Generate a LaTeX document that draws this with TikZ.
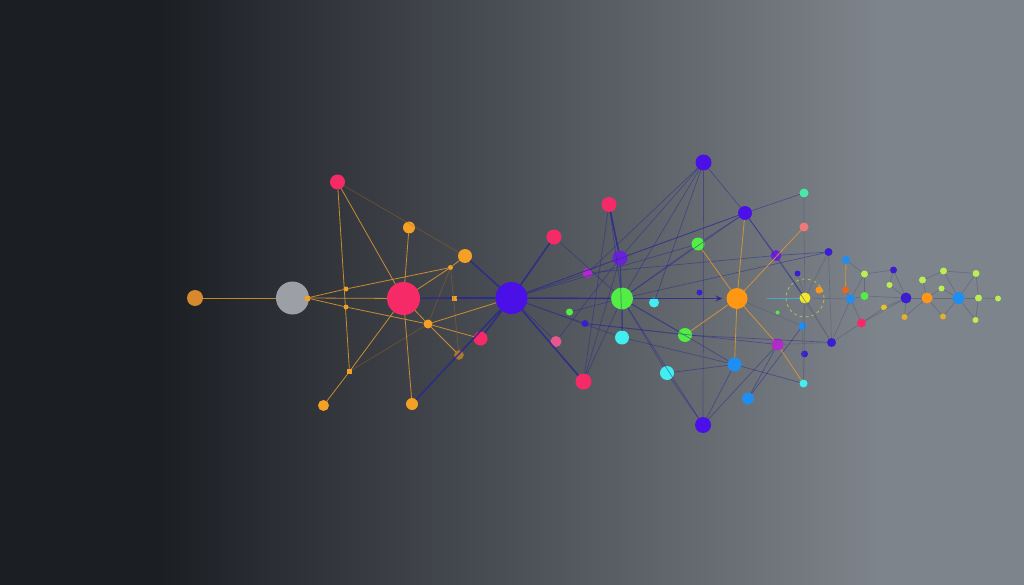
\documentclass[tikz,border=0pt]{standalone}
\usetikzlibrary{arrows.meta}
\definecolor{bgdark}{HTML}{1B1E23}
\definecolor{bgright}{HTML}{7E848B}
\definecolor{orA}{HTML}{D8892E}
\definecolor{orB}{HTML}{F4A024}
\definecolor{greyN}{HTML}{9C9FA6}
\definecolor{pinkN}{HTML}{F72A68}
\definecolor{pinkL}{HTML}{E8588E}
\definecolor{brownN}{HTML}{A87A38}
\definecolor{blueN}{HTML}{4B10E8}
\definecolor{purpN}{HTML}{6A22D8}
\definecolor{magN}{HTML}{B02CC8}
\definecolor{greenN}{HTML}{52EE45}
\definecolor{cyanN}{HTML}{42EEF0}
\definecolor{orN}{HTML}{FF9614}
\definecolor{lblueN}{HTML}{1F8EF2}
\definecolor{tealN}{HTML}{48E8A8}
\definecolor{salN}{HTML}{F07878}
\definecolor{yelN}{HTML}{F2E82A}
\definecolor{limeN}{HTML}{BCEE52}
\definecolor{navyN}{HTML}{3A1ED0}
\definecolor{oyN}{HTML}{E2B02A}
\definecolor{orrN}{HTML}{E86420}
\definecolor{edgeN}{HTML}{26278E}
\definecolor{edgeO}{HTML}{E09A30}
\definecolor{edgeG}{HTML}{5A6078}
\tikzset{
  nd/.style={circle, inner sep=0pt, outer sep=0pt, draw=none},
  sq/.style={rectangle, inner sep=0pt, outer sep=0pt, minimum size=5pt, fill=orB, draw=none},
  oe/.style={draw=edgeO, line width=0.8pt, opacity=0.85},
  oef/.style={draw=edgeO!70!black, line width=0.6pt, opacity=0.5},
  ne/.style={draw=edgeN, line width=1.6pt, opacity=0.8},
  nt/.style={draw=edgeN, line width=0.7pt, opacity=0.5},
  ge/.style={draw=edgeG, line width=0.6pt, opacity=0.7},
}
\newcommand{\dotn}[5]{\node[nd, fill=#5, minimum size=#4pt] (#1) at (#2,#3) {};}
\begin{document}
\begin{tikzpicture}[x=1pt,y=-1pt]
\useasboundingbox (0,0) rectangle (1024,585);
\fill[bgdark] (0,0) rectangle (1024,585);
\shade[left color=bgdark, right color=bgright] (160,0) rectangle (880,585);
\fill[bgright] (879.5,0) rectangle (1024,585);

% ---------- left cluster ----------
\dotn{o1}{195}{298}{16}{orA}
\dotn{gr}{292.5}{298}{33}{greyN}
\node[sq] (j1) at (307,298) {};
\dotn{pt}{337.5}{182}{15}{pinkN}
\dotn{o2}{409}{227.5}{12}{orB}
\dotn{o3}{465}{256}{14}{orB}
\dotn{s1}{450.5}{267.5}{5}{orB}
\dotn{pb}{403.5}{298.5}{33}{pinkN}
\dotn{s2}{346}{289}{5}{orB}
\dotn{s3}{346}{307}{5}{orB}
\node[sq] (q1) at (454,298) {};
\dotn{o4}{428}{324}{9}{orB}
\dotn{pk1}{480.5}{338.5}{14}{pinkN}
\node[nd, fill=brownN, draw=orB!70!black, line width=0.6pt, minimum size=9pt] (br) at (459,355) {};
\node[sq] (q2) at (349.5,371.5) {};
\dotn{o5}{323.5}{405.5}{11}{orB}
\dotn{o6}{412}{404}{12}{orB}
\dotn{bb}{511.5}{298}{32}{blueN}

% ---------- middle cluster ----------
\dotn{pk2}{554}{237}{15}{pinkN}
\dotn{pk3}{609}{204.5}{15}{pinkN}
\dotn{pu1}{620}{258}{15}{purpN}
\dotn{mg1}{587.5}{273}{10}{magN}
\dotn{gb}{622}{298.5}{22}{greenN}
\dotn{cy1}{654}{302.5}{10}{cyanN}
\dotn{gs1}{569.5}{312}{7}{greenN}
\dotn{nv1}{585}{323.5}{7}{navyN}
\dotn{pl1}{556}{341.5}{11}{pinkL}
\dotn{cy2}{622}{337.5}{14}{cyanN}
\dotn{gn2}{685}{335}{14}{greenN}
\dotn{cy3}{667}{373}{14}{cyanN}
\dotn{pk4}{583.5}{381.5}{16}{pinkN}
\dotn{bt}{703.5}{162.5}{16}{blueN}
\dotn{bbot}{703}{425}{16}{blueN}
\dotn{gn3}{698}{244}{13}{greenN}
\dotn{nv2}{699.5}{292.5}{6}{navyN}
\dotn{ob}{737}{298.5}{21}{orN}
\dotn{bl1}{745}{213}{14}{blueN}
\dotn{pu2}{776}{255.5}{11}{purpN}
\dotn{mg2}{777.5}{344.5}{12}{magN}
\dotn{lb1}{734.5}{364.5}{14}{lblueN}
\dotn{lb2}{748}{398.5}{12}{lblueN}

% ---------- right cluster ----------
\dotn{tl}{804}{193}{9}{tealN}
\dotn{sa}{804}{227}{9}{salN}
\dotn{nv3}{828.5}{252}{8}{navyN}
\dotn{nv4}{797.5}{273.5}{6}{navyN}
\dotn{ye}{805}{298}{11}{yelN}
\dotn{or1}{819}{290}{7}{orN}
\dotn{gt}{777.5}{312.5}{4}{greenN}
\dotn{lb3}{802.5}{326}{8}{lblueN}
\dotn{nv5}{831.5}{342.5}{9}{navyN}
\dotn{nv6}{804.5}{354}{7}{navyN}
\dotn{cy4}{803.5}{383.5}{8}{cyanN}
\dotn{lb4}{846}{260}{8}{lblueN}
\dotn{or2}{845.5}{290}{7}{orrN}
\dotn{lb5}{850.5}{299}{9}{lblueN}
\dotn{pk5}{861.5}{323}{9}{pinkN}
\dotn{li1}{864.5}{274}{7}{limeN}
\dotn{gn4}{864.5}{296}{8}{greenN}
\dotn{nv7}{893.5}{270}{7}{navyN}
\dotn{li2}{889.5}{285}{6}{limeN}
\dotn{ye2}{884}{307.5}{6}{oyN!70!yelN}
\dotn{pb2}{906}{298}{11}{navyN}
\dotn{oy1}{904.5}{317}{6}{oyN}
\dotn{li3}{922.5}{280}{7}{limeN}
\dotn{or3}{927}{298}{11}{orN}
\dotn{li4}{941.5}{288.5}{6}{limeN}
\dotn{li5}{943.5}{271}{7}{limeN}
\dotn{oy2}{943}{316.5}{6}{oyN}
\dotn{lb6}{958.5}{298}{12}{lblueN}
\dotn{li6}{976}{273.5}{7}{limeN}
\dotn{li7}{978.5}{298}{7}{limeN}
\dotn{li8}{975.5}{320}{6}{limeN}
\dotn{li9}{998}{298.5}{6}{limeN}
\coordinate (cL) at (767,298);
\draw[yelN!70!limeN, line width=0.8pt, dashed, opacity=0.6] (ye) circle[radius=19pt];

% ---------- orange edges ----------
\draw[oe] (o1) -- (gr);
\draw[oe] (j1) -- (s2) -- (s1) -- (o3);
\draw[oe] (j1) -- (pb);
\draw[oe] (j1) -- (s3) -- (o4) -- (pk1);
\draw[oe] (pt) -- (q2);
\draw[oe] (pt) -- (pb);
\draw[oef] (pt) -- (o3);
\draw[oe] (o2) -- (pb);
\draw[oe] (pb) -- (s1);
\draw[oe] (pb) -- (o6);
\draw[oe] (pb) -- (q2);
\draw[oe] (q2) -- (o5);
\draw[oe] (pb) -- (o4) -- (br);
\draw[oef] (s1) -- (o4);
\draw[oef] (q2) -- (o4);
\draw[oef] (s1) -- (br);
\draw[oe] (o4) -- (bb);

% ---------- navy edges ----------
\draw[ne] (pb) -- (q1) -- (bb);
\draw[ne] (o3) -- (bb);
\draw[ne] (bb) -- (pk1);
\draw[ne] (bb) -- (o6);
\draw[ne] (bb) -- (pk2);
\draw[ne] (bb) -- (pk4);
\draw[ne] (bb) -- (gb);
\draw[nt] (bb) -- (pu1);
\draw[nt] (bb) -- (mg1);
\draw[nt] (bb) -- (gn3);
\draw[nt] (bb) -- (bl1);
\draw[nt] (bb) -- (pl1);
\draw[nt] (bb) -- (nv1);
\draw[nt] (bb) -- (cy2);
\draw[nt] (pk2) -- (gb);
\draw[ne] (pk3) -- (pu1);
\draw[nt] (pk3) -- (pk4);
\draw[nt] (pu1) -- (gb);
\draw[nt] (pu1) -- (pk4);
\draw[nt] (pu1) -- (cy2);
\draw[nt] (bt) -- (pu1);
\draw[nt] (bt) -- (gb);
\draw[nt] (bt) -- (mg1);
\draw[nt] (bt) -- (bbot);
\draw[nt] (bt) -- (bl1);
\draw[nt] (bt) -- (cy1);
\draw[nt] (bbot) -- (gb);
\draw[nt] (bbot) -- (cy3);
\draw[nt] (bbot) -- (lb1);
\draw[nt] (bbot) -- (mg2);
\draw[nt] (gb) -- (cy2);
\draw[nt] (gb) -- (cy3);
\draw[nt] (gb) -- (pk4);
\draw[nt] (gb) -- (gn2);
\draw[nt] (gb) -- (lb1);
\draw[nt] (gb) -- (bl1);
\draw[ne, -{Stealth[length=7pt,width=6pt]}, shorten >=4pt] (gb) -- (ob);
\draw[nt] (pu1) -- (bl1);
\draw[nt] (mg1) -- (pu2);
\draw[nt] (nv1) -- (gn2);
\draw[nt] (pl1) -- (pu1);
\draw[nt] (cy2) -- (lb1);
\draw[nt] (gs1) -- (gb);
\draw[nt] (nv1) -- (mg2);
\draw[nt] (pk3) -- (gb);
\draw[nt] (gn3) -- (bl1);
\draw[nt] (gn3) -- (gb);
\draw[nt] (bl1) -- (tl);
\draw[nt] (bl1) -- (pu2);
\draw[nt] (pu2) -- (ye);
\draw[nt] (pu2) -- (nv3);
\draw[nt] (bl1) -- (ye);
\draw[nt] (mg2) -- (lb2);
\draw[nt] (lb1) -- (cy4);
\draw[nt] (gn2) -- (nv5);
\draw[nt] (cy3) -- (lb1);
\draw[nt] (gb) -- (nv3);
\draw[nt] (lb2) -- (lb3);
\draw[oe] (gn2) -- (ob);
\draw[oe] (gn3) -- (ob);
\draw[oe] (bl1) -- (ob);
\draw[oe] (ob) -- (sa);
\draw[oe] (ob) -- (mg2) -- (cy4);
\draw[oe] (ob) -- (lb1);

% ---------- grey edges ----------
\draw[ge] (tl) -- (sa) -- (ye);
\draw[ge] (nv3) -- (ye);
\draw[ge] (nv3) -- (nv5);
\draw[ge] (ye) -- (nv5);
\draw[ge] (ye) -- (lb3);
\draw[ge] (ye) -- (nv6);
\draw[ge] (lb3) -- (cy4);
\draw[ge] (nv6) -- (cy4);
\draw[ge] (nv4) -- (ye);
\draw[ge] (pu2) -- (nv5);
\draw[ge] (ob) -- (lb3);
\draw[ge] (mg2) -- (nv5);
\draw[cyanN!60!lblueN, line width=0.6pt, opacity=0.6] (ye) -- (cL);
\draw[oe] (lb4) -- (or2);
\draw[ge] (or2) -- (lb5);
\draw[ge] (lb5) -- (li1);
\draw[ge] (lb5) -- (gn4);
\draw[ge] (lb5) -- (pk5);
\draw[ge] (ye) -- (lb5);
\draw[ge] (nv5) -- (lb5);
\draw[ge] (nv5) -- (pk5);
\draw[ge] (lb4) -- (li1);
\draw[ge] (li1) -- (gn4);
\draw[ge] (gn4) -- (pb2);
\draw[ge] (pk5) -- (pb2);
\draw[ge] (pk5) -- (ye2);
\draw[ge] (nv7) -- (li2);
\draw[ge] (nv7) -- (pb2);
\draw[ge] (li2) -- (pb2);
\draw[ge] (ye2) -- (pb2);
\draw[ge] (pb2) -- (oy1);
\draw[ge] (pb2) -- (or3);
\draw[ge] (or3) -- (li3);
\draw[ge] (or3) -- (li4);
\draw[ge] (or3) -- (oy2);
\draw[ge] (or3) -- (lb6);
\draw[ge] (li3) -- (li5);
\draw[ge] (li5) -- (lb6);
\draw[ge] (li4) -- (lb6);
\draw[ge] (oy2) -- (lb6);
\draw[ge] (lb6) -- (li6);
\draw[ge] (lb6) -- (li7);
\draw[ge] (lb6) -- (li8);
\draw[ge] (li6) -- (li7);
\draw[ge] (li7) -- (li8);
\draw[ge] (li7) -- (li9);
\draw[ge] (li5) -- (li6);
\draw[ge] (li1) -- (nv7);
\draw[ge] (oy1) -- (or3);
\end{tikzpicture}
\end{document}
